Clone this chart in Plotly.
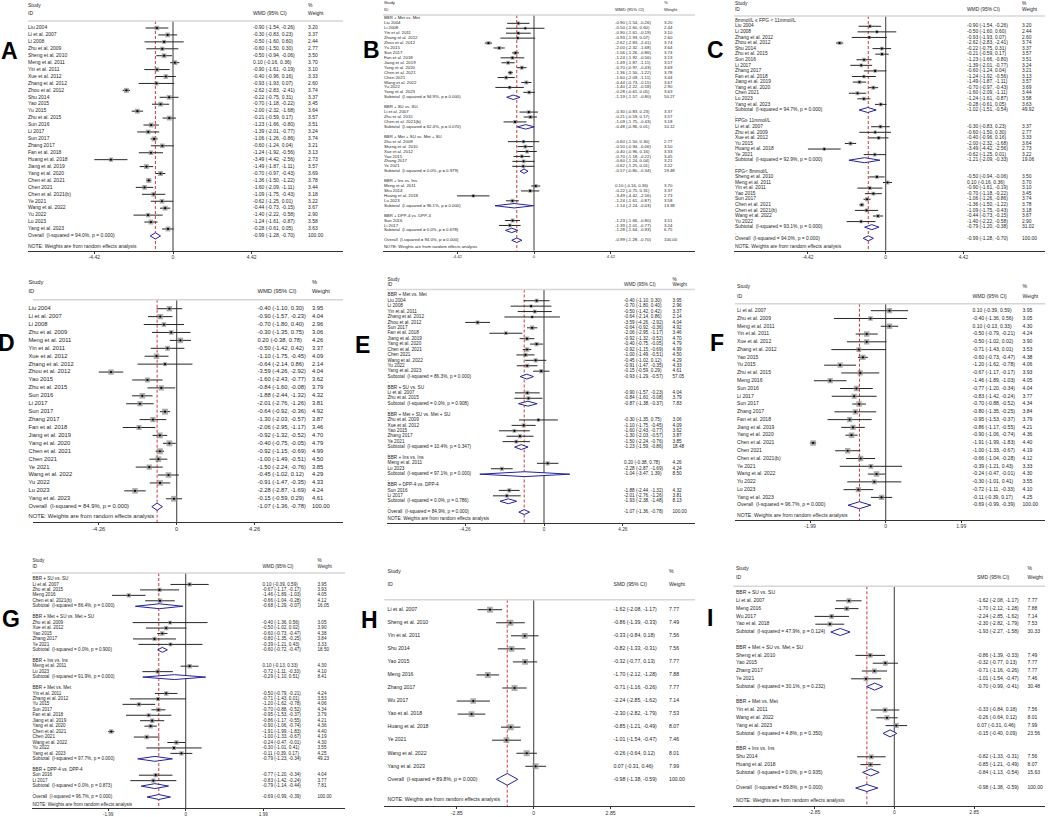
import math
import plotly.graph_objects as go

# ---------------- FPG, WMD (panels A, B, C) ----------------
fpg_study = ["Liu 2004", "Li et al. 2007", "Li 2008", "Zhu et al. 2009", "Sheng et al. 2010",
             "Meng et al. 2011", "Yin et al. 2011", "Xue et al. 2012", "Zhang et al. 2012",
             "Zhou et al. 2012", "Shu 2014", "Yao 2015", "Yu 2015", "Zhu et al. 2015", "Sun 2016",
             "Li 2017", "Sun 2017", "Zhang 2017", "Fan et al. 2018", "Huang et al. 2018",
             "Jiang et al. 2019", "Yang et al. 2020", "Chen et al. 2021", "Chen 2021",
             "Chen et al. 2021(b)", "Ye 2021", "Wang et al. 2022", "Yu 2022", "Lu 2023",
             "Yang et al. 2023"]
fpg_est = [-0.90, -0.30, -0.50, -0.60, -0.50, 0.10, -0.90, -0.40, -0.93, -2.62, -0.22, -0.70,
           -2.00, -0.21, -1.23, -1.39, -1.06, -0.60, -1.24, -3.49, -1.49, -0.70, -1.36, -1.60,
           -1.09, -0.62, -0.44, -1.40, -1.24, -0.28]
fpg_lo = [-1.54, -0.83, -1.60, -1.50, -0.94, -0.16, -1.61, -0.96, -1.93, -2.83, -0.75, -1.18,
          -2.32, -0.59, -1.66, -2.01, -1.26, -1.24, -1.92, -4.42, -1.87, -0.97, -1.50, -2.09,
          -1.75, -1.25, -0.73, -2.22, -1.61, -0.61]
fpg_hi = [-0.26, 0.23, 0.60, 0.30, -0.06, 0.36, -0.19, 0.16, 0.07, -2.41, 0.31, -0.22,
          -1.68, 0.17, -0.80, -0.77, -0.86, 0.04, -0.56, -2.56, -1.11, -0.43, -1.22, -1.11,
          -0.43, 0.01, -0.15, -0.58, -0.87, 0.05]
fpg_weight = [3.20, 3.37, 2.44, 2.77, 3.50, 3.70, 3.10, 3.33, 2.60, 3.74, 3.37, 3.45, 3.64,
              3.57, 3.51, 3.24, 3.74, 3.21, 3.13, 2.73, 3.57, 3.69, 3.78, 3.44, 3.18, 3.22,
              3.67, 2.90, 3.58, 3.63]
fpg_overall = [-0.99, -1.28, -0.70]
fpg_overall_het = [94.0, 0.000]

b_groups = ["BBR + Met vs. Met", "BBR + SU vs. SU", "BBR + Met + SU vs. Met + SU",
            "BBR + Ins vs. Ins", "BBR + DPP-4 vs. DPP-4"]
b_members = [
    ["Liu 2004", "Li 2008", "Yin et al. 2011", "Zhang et al. 2012", "Zhou et al. 2012", "Yu 2015",
     "Sun 2017", "Fan et al. 2018", "Jiang et al. 2019", "Yang et al. 2020", "Chen et al. 2021",
     "Chen 2021", "Wang et al. 2022", "Yu 2022", "Yang et al. 2023"],
    ["Li et al. 2007", "Zhu et al. 2015", "Chen et al. 2021(b)"],
    ["Zhu et al. 2009", "Sheng et al. 2010", "Xue et al. 2012", "Yao 2015", "Zhang 2017", "Ye 2021"],
    ["Meng et al. 2011", "Shu 2014", "Huang et al. 2018", "Lu 2023"],
    ["Sun 2016", "Li 2017"],
]
b_sub = [[-1.19, -1.57, -0.80], [-0.48, -0.96, 0.01], [-0.57, -0.80, -0.34],
         [-1.14, -2.24, -0.03], [-1.28, -1.64, -0.93]]
b_sub_weight = [50.27, 10.12, 19.48, 13.38, 6.75]
b_sub_i2 = [94.9, 62.4, 0.0, 96.1, 0.0]
b_sub_p = [0.000, 0.070, 0.979, 0.000, 0.678]

c_groups = ["8mmol/L \u2264 FPG < 11mmol/L", "FPG\u2265 11mmol/L", "FPG< 8mmol/L"]
c_members = [
    ["Liu 2004", "Li 2008", "Zhang et al. 2012", "Zhou et al. 2012", "Shu 2014", "Zhu et al. 2015",
     "Sun 2016", "Li 2017", "Zhang 2017", "Fan et al. 2018", "Jiang et al. 2019",
     "Yang et al. 2020", "Chen 2021", "Lu 2023", "Yang et al. 2023"],
    ["Li et al. 2007", "Zhu et al. 2009", "Xue et al. 2012", "Yu 2015", "Huang et al. 2018", "Ye 2021"],
    ["Sheng et al. 2010", "Meng et al. 2011", "Yin et al. 2011", "Yao 2015", "Sun 2017",
     "Chen et al. 2021", "Chen et al. 2021(b)", "Wang et al. 2022", "Yu 2022"],
]
c_sub = [[-1.02, -1.51, -0.54], [-1.21, -2.09, -0.33], [-0.79, -1.20, -0.38]]
c_sub_weight = [49.92, 19.06, 31.02]
c_sub_i2 = [94.7, 92.9, 93.1]
c_sub_p = [0.000, 0.000, 0.000]

# ---------------- 2hPG, WMD (panels D, E) ----------------
pg2_study = ["Liu 2004", "Li et al. 2007", "Li 2008", "Zhu et al. 2009", "Meng et al. 2011",
             "Yin et al. 2011", "Xue et al. 2012", "Zhang et al. 2012", "Zhou et al. 2012",
             "Yao 2015", "Zhu et al. 2015", "Sun 2016", "Li 2017", "Sun 2017", "Zhang 2017",
             "Fan et al. 2018", "Jiang et al. 2019", "Yang et al. 2020", "Chen et al. 2021",
             "Chen 2021", "Ye 2021", "Wang et al. 2022", "Yu 2022", "Lu 2023", "Yang et al. 2023"]
pg2_est = [-0.40, -0.90, -0.70, -0.30, 0.20, -0.50, -1.10, -0.64, -3.59, -1.60, -0.84, -1.88,
           -2.01, -0.64, -1.30, -2.06, -0.92, -0.40, -0.92, -1.00, -1.50, -0.45, -0.91, -2.28,
           -0.15]
pg2_lo = [-1.10, -1.57, -1.80, -1.35, -0.38, -1.42, -1.75, -2.14, -4.26, -2.43, -1.60, -2.44,
          -2.76, -0.92, -2.03, -2.95, -1.32, -0.75, -1.15, -1.49, -2.24, -1.02, -1.47, -2.87,
          -0.59]
pg2_hi = [0.30, -0.23, 0.40, 0.75, 0.78, 0.42, -0.45, 0.86, -2.92, -0.77, -0.08, -1.32, -1.26,
          -0.36, -0.57, -1.17, -0.52, -0.05, -0.69, -0.51, -0.76, 0.12, -0.35, -1.69, 0.29]
pg2_weight = [3.95, 4.04, 2.96, 3.06, 4.26, 3.37, 4.09, 2.14, 4.04, 3.62, 3.79, 4.32, 3.81,
              4.92, 3.87, 3.46, 4.70, 4.79, 4.99, 4.50, 3.85, 4.29, 4.33, 4.24, 4.61]
pg2_overall = [-1.07, -1.36, -0.78]
pg2_overall_het = [84.9, 0.000]

e_groups = ["BBR + Met vs. Met", "BBR + SU vs. SU", "BBR + Met + SU vs. Met + SU",
            "BBR + Ins vs. Ins", "BBR + DPP-4 vs. DPP-4"]
e_members = [
    ["Liu 2004", "Li 2008", "Yin et al. 2011", "Zhang et al. 2012", "Zhou et al. 2012", "Sun 2017",
     "Fan et al. 2018", "Jiang et al. 2019", "Yang et al. 2020", "Chen et al. 2021", "Chen 2021",
     "Wang et al. 2022", "Yu 2022", "Yang et al. 2023"],
    ["Li et al. 2007", "Zhu et al. 2015"],
    ["Zhu et al. 2009", "Xue et al. 2012", "Yao 2015", "Zhang 2017", "Ye 2021"],
    ["Meng et al. 2011", "Lu 2023"],
    ["Sun 2016", "Li 2017"],
]
e_sub = [[-0.93, -1.29, -0.57], [-0.87, -1.38, -0.37], [-1.23, -1.59, -0.86],
         [-1.04, -3.47, 1.39], [-1.93, -2.38, -1.48]]
e_sub_weight = [57.05, 7.83, 18.48, 8.50, 8.13]
e_sub_i2 = [86.3, 0.0, 10.4, 97.1, 0.0]
e_sub_p = [0.000, 0.908, 0.347, 0.000, 0.786]

# ---------------- HbA1c, WMD (panels F, G) ----------------
hba_study = ["Li et al. 2007", "Zhu et al. 2009", "Meng et al. 2011", "Yin et al. 2011",
             "Xue et al. 2012", "Zhang et al. 2012", "Yao 2015", "Yu 2015", "Zhu et al. 2015",
             "Meng 2016", "Sun 2016", "Li 2017", "Sun 2017", "Zhang 2017", "Fan et al. 2018",
             "Jiang et al. 2019", "Yang et al. 2020", "Chen et al. 2021", "Chen 2021",
             "Chen et al. 2021(b)", "Ye 2021", "Wang et al. 2022", "Yu 2022", "Lu 2023",
             "Yang et al. 2023"]
hba_est = [0.10, -0.40, 0.10, -0.50, -0.50, -0.71, -0.60, -1.20, -0.67, -1.46, -0.77, -0.83,
           -0.70, -0.80, -0.95, -0.86, -0.90, -1.91, -1.00, -0.66, -0.39, -0.24, -0.30, -0.72,
           -0.11]
hba_lo = [-0.39, -1.36, -0.13, -0.79, -1.02, -1.43, -0.73, -1.62, -1.17, -1.89, -1.20, -1.42,
          -0.88, -1.35, -1.53, -1.17, -1.06, -1.99, -1.33, -1.04, -1.21, -0.47, -1.01, -1.11,
          -0.39]
hba_hi = [0.59, 0.56, 0.33, -0.21, 0.02, 0.01, -0.47, -0.78, -0.17, -1.03, -0.34, -0.24, -0.52,
          -0.25, -0.37, -0.55, -0.74, -1.83, -0.67, -0.28, 0.43, -0.01, 0.41, -0.33, 0.17]
hba_weight = [3.95, 3.05, 4.30, 4.24, 3.90, 3.53, 4.38, 4.06, 3.93, 4.05, 4.04, 3.77, 4.34,
              3.84, 3.79, 4.21, 4.36, 4.40, 4.19, 4.12, 3.33, 4.30, 3.55, 4.10, 4.25]
hba_overall = [-0.69, -0.99, -0.39]
hba_overall_het = [96.7, 0.000]

g_groups = ["BBR + SU vs. SU", "BBR + Met + SU vs. Met + SU", "BBR + Ins vs. Ins",
            "BBR + Met vs. Met", "BBR + DPP-4 vs. DPP-4"]
g_members = [
    ["Li et al. 2007", "Zhu et al. 2015", "Meng 2016", "Chen et al. 2021(b)"],
    ["Zhu et al. 2009", "Xue et al. 2012", "Yao 2015", "Zhang 2017", "Ye 2021"],
    ["Meng et al. 2011", "Lu 2023"],
    ["Yin et al. 2011", "Zhang et al. 2012", "Yu 2015", "Sun 2017", "Fan et al. 2018",
     "Jiang et al. 2019", "Yang et al. 2020", "Chen et al. 2021", "Chen 2021",
     "Wang et al. 2022", "Yu 2022", "Yang et al. 2023"],
    ["Sun 2016", "Li 2017"],
]
g_sub = [[-0.68, -1.29, -0.07], [-0.60, -0.72, -0.47], [-0.29, -1.10, 0.51],
         [-0.79, -1.23, -0.34], [-0.79, -1.14, -0.44]]
g_sub_weight = [16.05, 18.50, 8.41, 49.23, 7.81]
g_sub_i2 = [86.4, 0.0, 91.9, 97.7, 0.0]
g_sub_p = [0.000, 0.900, 0.000, 0.000, 0.873]

# ---------------- SMD (panels H, I) ----------------
smd_study = ["Li et al. 2007", "Sheng et al. 2010", "Yin et al. 2011", "Shu 2014", "Yao 2015",
             "Meng 2016", "Zhang 2017", "Wu 2017", "Yao et al. 2018", "Huang et al. 2018",
             "Ye 2021", "Wang et al. 2022", "Yang et al. 2023"]
smd_est = [-1.62, -0.86, -0.33, -0.82, -0.32, -1.70, -0.71, -2.24, -2.30, -0.85, -1.01, -0.26, 0.07]
smd_lo = [-2.08, -1.39, -0.84, -1.33, -0.77, -2.12, -1.16, -2.85, -2.82, -1.21, -1.54, -0.64, -0.31]
smd_hi = [-1.17, -0.33, 0.18, -0.31, 0.13, -1.28, -0.26, -1.62, -1.79, -0.49, -0.47, 0.12, 0.46]
smd_weight = [7.77, 7.49, 7.56, 7.56, 7.77, 7.88, 7.77, 7.14, 7.53, 8.07, 7.46, 8.01, 7.99]
smd_overall = [-0.98, -1.38, -0.59]
smd_overall_het = [89.8, 0.000]

i_groups = ["BBR + SU vs. SU", "BBR + Met + SU vs. Met + SU", "BBR + Met vs. Met", "BBR + Ins vs. Ins"]
i_members = [
    ["Li et al. 2007", "Meng 2016", "Wu 2017", "Yao et al. 2018"],
    ["Sheng et al. 2010", "Yao 2015", "Zhang 2017", "Ye 2021"],
    ["Yin et al. 2011", "Wang et al. 2022", "Yang et al. 2023"],
    ["Shu 2014", "Huang et al. 2018"],
]
i_sub = [[-1.93, -2.27, -1.58], [-0.70, -0.99, -0.41], [-0.15, -0.40, 0.09], [-0.84, -1.13, -0.54]]
i_sub_weight = [30.33, 30.48, 23.56, 15.63]
i_sub_i2 = [47.9, 30.1, 4.8, 0.0]
i_sub_p = [0.124, 0.232, 0.350, 0.935]

W, H = 1052, 817
FONT = "Liberation Sans, Arial, sans-serif"
NOTE = "NOTE: Weights are from random effects analysis"

fpg = (fpg_study, fpg_est, fpg_lo, fpg_hi, fpg_weight, fpg_overall, fpg_overall_het)
pg2 = (pg2_study, pg2_est, pg2_lo, pg2_hi, pg2_weight, pg2_overall, pg2_overall_het)
hba = (hba_study, hba_est, hba_lo, hba_hi, hba_weight, hba_overall, hba_overall_het)
smd = (smd_study, smd_est, smd_lo, smd_hi, smd_weight, smd_overall, smd_overall_het)

# geometry of each Stata panel, in pixels of the composite picture
panels = [
    dict(tag="A", data=fpg, groups=None, measure="WMD (95% CI)", tick=4.42,
         x0=28, x1=343, zero=173, scale=17.8, top=0, row0=28, dy=6.93, axis=251,
         study=6, id=14, rule=21, note=246.5, lab=28, est=253, wt=308, font=5.0, box=5,
         letter=(9, 51)),
    dict(tag="B", data=fpg,
         groups=(b_groups, b_members, b_sub, b_sub_weight, b_sub_i2, b_sub_p),
         measure="WMD (95% CI)", tick=4.42,
         x0=383, x1=695, zero=534, scale=17.4, top=0, row0=18.4, dy=4.93, axis=250.7,
         study=2.5, id=10, rule=15, note=246.5, lab=384, est=615, wt=664, font=4.3, box=4,
         letter=(371, 50)),
    dict(tag="C", data=fpg,
         groups=(c_groups, c_members, c_sub, c_sub_weight, c_sub_i2, c_sub_p),
         measure="WMD (95% CI)", tick=4.42,
         x0=734, x1=1045, zero=885.7, scale=17.6, top=0, row0=20.7, dy=5.58, axis=250.7,
         study=4, id=9.5, rule=16, note=246.5, lab=735, est=967, wt=1022, font=4.9, box=4,
         letter=(715, 50)),
    dict(tag="D", data=pg2, groups=None, measure="WMD (95% CI)", tick=4.26,
         x0=33, x1=343, zero=176.7, scale=18.3, top=268, row0=308.7, dy=7.92, axis=522,
         study=283, id=292, rule=299.7, note=517, lab=28.5, est=257.5, wt=312, font=5.8, box=6,
         letter=(6, 343)),
    dict(tag="E", data=pg2,
         groups=(e_groups, e_members, e_sub, e_sub_weight, e_sub_i2, e_sub_p),
         measure="WMD (95% CI)", tick=4.26,
         x0=386.7, x1=695, zero=544, scale=18.5, top=268, row0=295.3, dy=5.42, axis=523,
         study=279.5, id=285, rule=289.5, note=519, lab=387.5, est=624, wt=672.5, font=4.7,
         box=4.5, letter=(362, 345)),
    dict(tag="F", data=hba, groups=None, measure="WMD (95% CI)", tick=1.99,
         x0=735, x1=1045, zero=885.7, scale=38.0, top=268, row0=310.7, dy=7.78, axis=520.3,
         study=286.3, id=296.3, rule=303.7, note=515.5, lab=737, est=972.5, wt=1022.5, font=5.1,
         box=5.5, letter=(717, 343)),
    dict(tag="G", data=hba,
         groups=(g_groups, g_members, g_sub, g_sub_weight, g_sub_i2, g_sub_p),
         measure="WMD (95% CI)", tick=1.99,
         x0=31.7, x1=345, zero=185.7, scale=39.0, top=543, row0=579, dy=5.45, axis=808.2,
         study=561.3, id=567, rule=573, note=804.8, lab=32.5, est=262.5, wt=317.5, font=4.6,
         box=4.5, letter=(11, 619)),
    dict(tag="H", data=smd, groups=None, measure="SMD (95% CI)", tick=2.85,
         x0=384.3, x1=695, zero=533.7, scale=27.0, top=543, row0=609.7, dy=13.05, axis=806.3,
         study=571.3, id=584.7, rule=599.7, note=799.7, lab=387.5, est=613.5, wt=669, font=5.2,
         box=6, letter=(369, 620)),
    dict(tag="I", data=smd,
         groups=(i_groups, i_members, i_sub, i_sub_weight, i_sub_i2, i_sub_p),
         measure="SMD (95% CI)", tick=2.85,
         x0=733.3, x1=1045, zero=894.3, scale=28.0, top=543, row0=593, dy=7.8, axis=806.3,
         study=569, id=578, rule=586.3, note=800.8, lab=736, est=977, wt=1027.5, font=5.0,
         box=5, letter=(710, 618)),
]


def build_rows(data, groups):
    study, est, lo, hi, weight, overall, het = data
    idx = {s: i for i, s in enumerate(study)}
    rows = []

    def add(kind, label, e=None, l=None, h=None, w=None):
        rows.append(dict(r=len(rows), kind=kind, label=label, e=e, l=l, h=h, w=w))

    if groups is None:
        for i, s in enumerate(study):
            add("study", s, est[i], lo[i], hi[i], weight[i])
    else:
        names, members, sub, sub_w, sub_i2, sub_p = groups
        for g, name in enumerate(names):
            add("group", name)
            for s in members[g]:
                i = idx[s]
                add("study", s, est[i], lo[i], hi[i], weight[i])
            add("pooled", f"Subtotal  (I-squared = {sub_i2[g]:.1f}%, p = {sub_p[g]:.3f})",
                sub[g][0], sub[g][1], sub[g][2], sub_w[g])
            add("dot", ".")
    add("pooled", f"Overall  (I-squared = {het[0]:.1f}%, p = {het[1]:.3f})",
        overall[0], overall[1], overall[2], 100.0)
    return rows


fig = go.Figure()
shapes, annotations = [], []
axes = {}

for k, p in enumerate(panels, start=1):
    sfx = "" if k == 1 else str(k)
    xa, ya = "x" + sfx, "y" + sfx
    rows = build_rows(p["data"], p["groups"])
    to_row = lambda px: (px - p["row0"]) / p["dy"]
    r_bottom, r_top, r_rule = to_row(p["axis"]), to_row(p["top"]), to_row(p["rule"])
    studies = [r for r in rows if r["kind"] == "study"]
    pooled = [r for r in rows if r["kind"] == "pooled"]
    overall = pooled[-1]

    # reference lines: no effect, and the overall pooled estimate
    fig.add_trace(go.Scatter(x=[0, 0], y=[r_rule, r_bottom], mode="lines",
                             line=dict(color="#4a4a4a", width=1.1), xaxis=xa, yaxis=ya,
                             hoverinfo="skip", showlegend=False))
    fig.add_trace(go.Scatter(x=[overall["e"], overall["e"]], y=[r_rule, r_bottom], mode="lines",
                             line=dict(color="#d03a3a", width=1, dash="3px,2px"),
                             xaxis=xa, yaxis=ya, hoverinfo="skip", showlegend=False))

    # confidence intervals
    cx, cy = [], []
    for r in studies:
        cx += [r["l"], r["h"], None]
        cy += [r["r"], r["r"], None]
    fig.add_trace(go.Scatter(x=cx, y=cy, mode="lines", line=dict(color="#262626", width=1),
                             xaxis=xa, yaxis=ya, hoverinfo="skip", showlegend=False))

    # weight boxes and point estimates
    wmax = max(r["w"] for r in studies)
    fig.add_trace(go.Scatter(
        x=[r["e"] for r in studies], y=[r["r"] for r in studies], mode="markers",
        marker=dict(symbol="square", color="#8a8a8a",
                    size=[p["box"] * math.sqrt(r["w"] / wmax) for r in studies], line=dict(width=0)),
        xaxis=xa, yaxis=ya, hoverinfo="skip", showlegend=False))
    fig.add_trace(go.Scatter(
        x=[r["e"] for r in studies], y=[r["r"] for r in studies], mode="markers",
        marker=dict(symbol="circle", color="#000000", size=2.2, line=dict(width=0)),
        xaxis=xa, yaxis=ya, hoverinfo="skip", showlegend=False))

    # pooled diamonds
    dx, dyy = [], []
    for r in pooled:
        dx += [r["l"], r["e"], r["h"], r["e"], r["l"], None]
        dyy += [r["r"], r["r"] - 0.45, r["r"], r["r"] + 0.45, r["r"], None]
    fig.add_trace(go.Scatter(x=dx, y=dyy, mode="lines", fill="toself", fillcolor="white",
                             line=dict(color="#23239a", width=1), xaxis=xa, yaxis=ya,
                             hoverinfo="skip", showlegend=False))

    t = p["tick"]
    axes["xaxis" + sfx] = dict(
        domain=[p["x0"] / W, p["x1"] / W],
        range=[(p["x0"] - p["zero"]) / p["scale"], (p["x1"] - p["zero"]) / p["scale"]],
        anchor=ya, showgrid=False, zeroline=False, showline=True, linecolor="#333333",
        linewidth=1, ticks="outside", ticklen=2, tickwidth=1, tickcolor="#333333",
        ticklabelstandoff=-1,
        tickvals=[-t, 0, t], ticktext=[f"{-t:.2f}", "0", f"{t:.2f}"],
        tickfont=dict(size=p["font"], color="#333333", family=FONT), fixedrange=True)
    axes["yaxis" + sfx] = dict(
        domain=[1 - p["axis"] / H, 1 - p["top"] / H], range=[r_bottom, r_top],
        anchor=xa, visible=False, fixedrange=True)

    # header rule
    shapes.append(dict(type="line", xref="paper", yref="paper",
                       x0=p["x0"] / W, x1=p["x1"] / W,
                       y0=1 - p["rule"] / H, y1=1 - p["rule"] / H,
                       line=dict(color="#d6d6d6", width=1.5)))

    # text columns, placed in picture pixels on an overlay axis
    ypx = lambda r: p["row0"] + p["dy"] * r
    tx, ty, tt = [], [], []

    def put(x, y, s):
        tx.append(x)
        ty.append(y)
        tt.append(s)

    put(p["lab"], p["study"], "Study")
    put(p["lab"], p["id"], "ID")
    put(p["est"], p["id"], p["measure"])
    put(p["wt"], p["study"], "%")
    put(p["wt"], p["id"], "Weight")
    for r in rows:
        put(p["lab"], ypx(r["r"]), r["label"])
        if r["e"] is not None:
            put(p["est"], ypx(r["r"]), f"{r['e']:.2f} ({r['l']:.2f}, {r['h']:.2f})")
            put(p["wt"], ypx(r["r"]), f"{r['w']:.2f}")
    put(p["lab"], p["note"], NOTE)
    fig.add_trace(go.Scatter(x=tx, y=ty, text=tt, mode="text", textposition="middle right",
                             textfont=dict(size=p["font"], color="#1e1e1e", family=FONT),
                             cliponaxis=False, xaxis="x10", yaxis="y10",
                             hoverinfo="skip", showlegend=False))

    lx, ly = p["letter"]
    annotations.append(dict(text="<b>" + p["tag"] + "</b>", x=lx / W, y=1 - ly / H,
                            xref="paper", yref="paper", showarrow=False, xanchor="center",
                            yanchor="middle", font=dict(size=23, color="#000000", family=FONT)))

axes["xaxis10"] = dict(domain=[0, 1], range=[0, W], visible=False, fixedrange=True)
axes["yaxis10"] = dict(domain=[0, 1], range=[H, 0], visible=False, fixedrange=True)

fig.update_layout(**axes)
fig.update_layout(width=W, height=H, margin=dict(l=0, r=0, t=0, b=0),
                  paper_bgcolor="white", plot_bgcolor="rgba(0,0,0,0)",
                  shapes=shapes, annotations=annotations, showlegend=False,
                  font=dict(family=FONT))
# the page body has a default 8px margin; drop it so the figure fills the window
fig.write_html("out.html", config={"displayModeBar": False},
               post_script="document.body.style.margin='0';")
